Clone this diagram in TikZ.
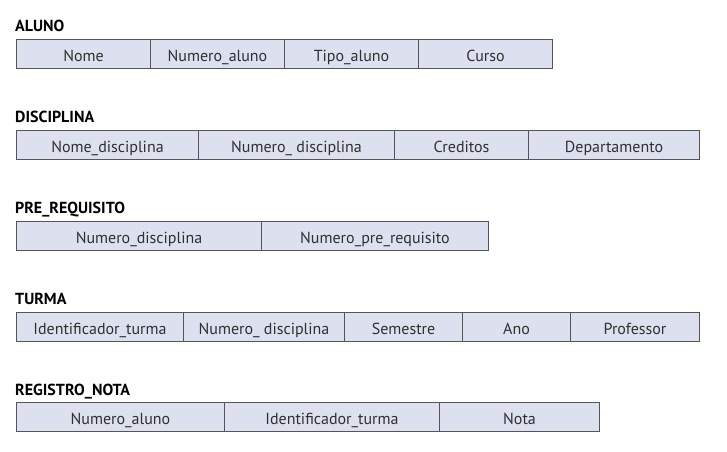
\documentclass[tikz,border=0pt]{standalone}
\usepackage{fontspec}
\setmainfont{PT Sans}
\definecolor{cellfill}{HTML}{DDE0EF}
\definecolor{cellline}{HTML}{555555}
\definecolor{textcol}{HTML}{303030}
\begin{document}
\begin{tikzpicture}[x=1pt,y=-1pt,
  cell/.style={draw=cellline, fill=cellfill, line width=1pt, inner sep=0pt,
    minimum height=29pt, text height=14pt, text depth=0pt, anchor=north west,
    font=\fontsize{16}{18}\selectfont, text=textcol},
  reltitle/.style={anchor=base west, inner sep=0pt, font=\fontsize{16}{18}\selectfont\bfseries, text=black}]
\useasboundingbox (0,0) rectangle (727,451);
% ALUNO
\node[reltitle] (tA) at (15,31) {ALUNO};
\node[cell, minimum width=134pt] (a1) at (16,39) {Nome};
\node[cell, minimum width=134pt] (a2) at (150,39) {Numero\_aluno};
\node[cell, minimum width=134pt] (a3) at (284,39) {Tipo\_aluno};
\node[cell, minimum width=134pt] (a4) at (418,39) {Curso};
% DISCIPLINA
\node[reltitle] (tD) at (15,122) {DISCIPLINA};
\node[cell, minimum width=182pt] (d1) at (16,130) {Nome\_disciplina};
\node[cell, minimum width=196pt] (d2) at (198,130) {Numero\_ disciplina};
\node[cell, minimum width=134pt] (d3) at (394,130) {Creditos};
\node[cell, minimum width=171pt] (d4) at (528,130) {Departamento};
% PRE_REQUISITO
\node[reltitle] (tP) at (15,213) {PRE\_REQUISITO};
\node[cell, minimum width=245pt] (p1) at (16,221) {Numero\_disciplina};
\node[cell, minimum width=227pt] (p2) at (261,221) {Numero\_pre\_requisito};
% TURMA
\node[reltitle] (tT) at (15,304) {TURMA};
\node[cell, minimum width=167pt] (t1) at (16,312) {Identificador\_turma};
\node[cell, minimum width=161pt] (t2) at (183,312) {Numero\_ disciplina};
\node[cell, minimum width=118pt] (t3) at (344,312) {Semestre};
\node[cell, minimum width=108pt] (t4) at (462,312) {Ano};
\node[cell, minimum width=129pt] (t5) at (570,312) {Professor};
% REGISTRO_NOTA
\node[reltitle] (tR) at (15,395) {REGISTRO\_NOTA};
\node[cell, minimum width=208pt] (r1) at (16,402) {Numero\_aluno};
\node[cell, minimum width=215pt] (r2) at (224,402) {Identificador\_turma};
\node[cell, minimum width=160pt] (r3) at (439,402) {Nota};
\end{tikzpicture}
\end{document}
